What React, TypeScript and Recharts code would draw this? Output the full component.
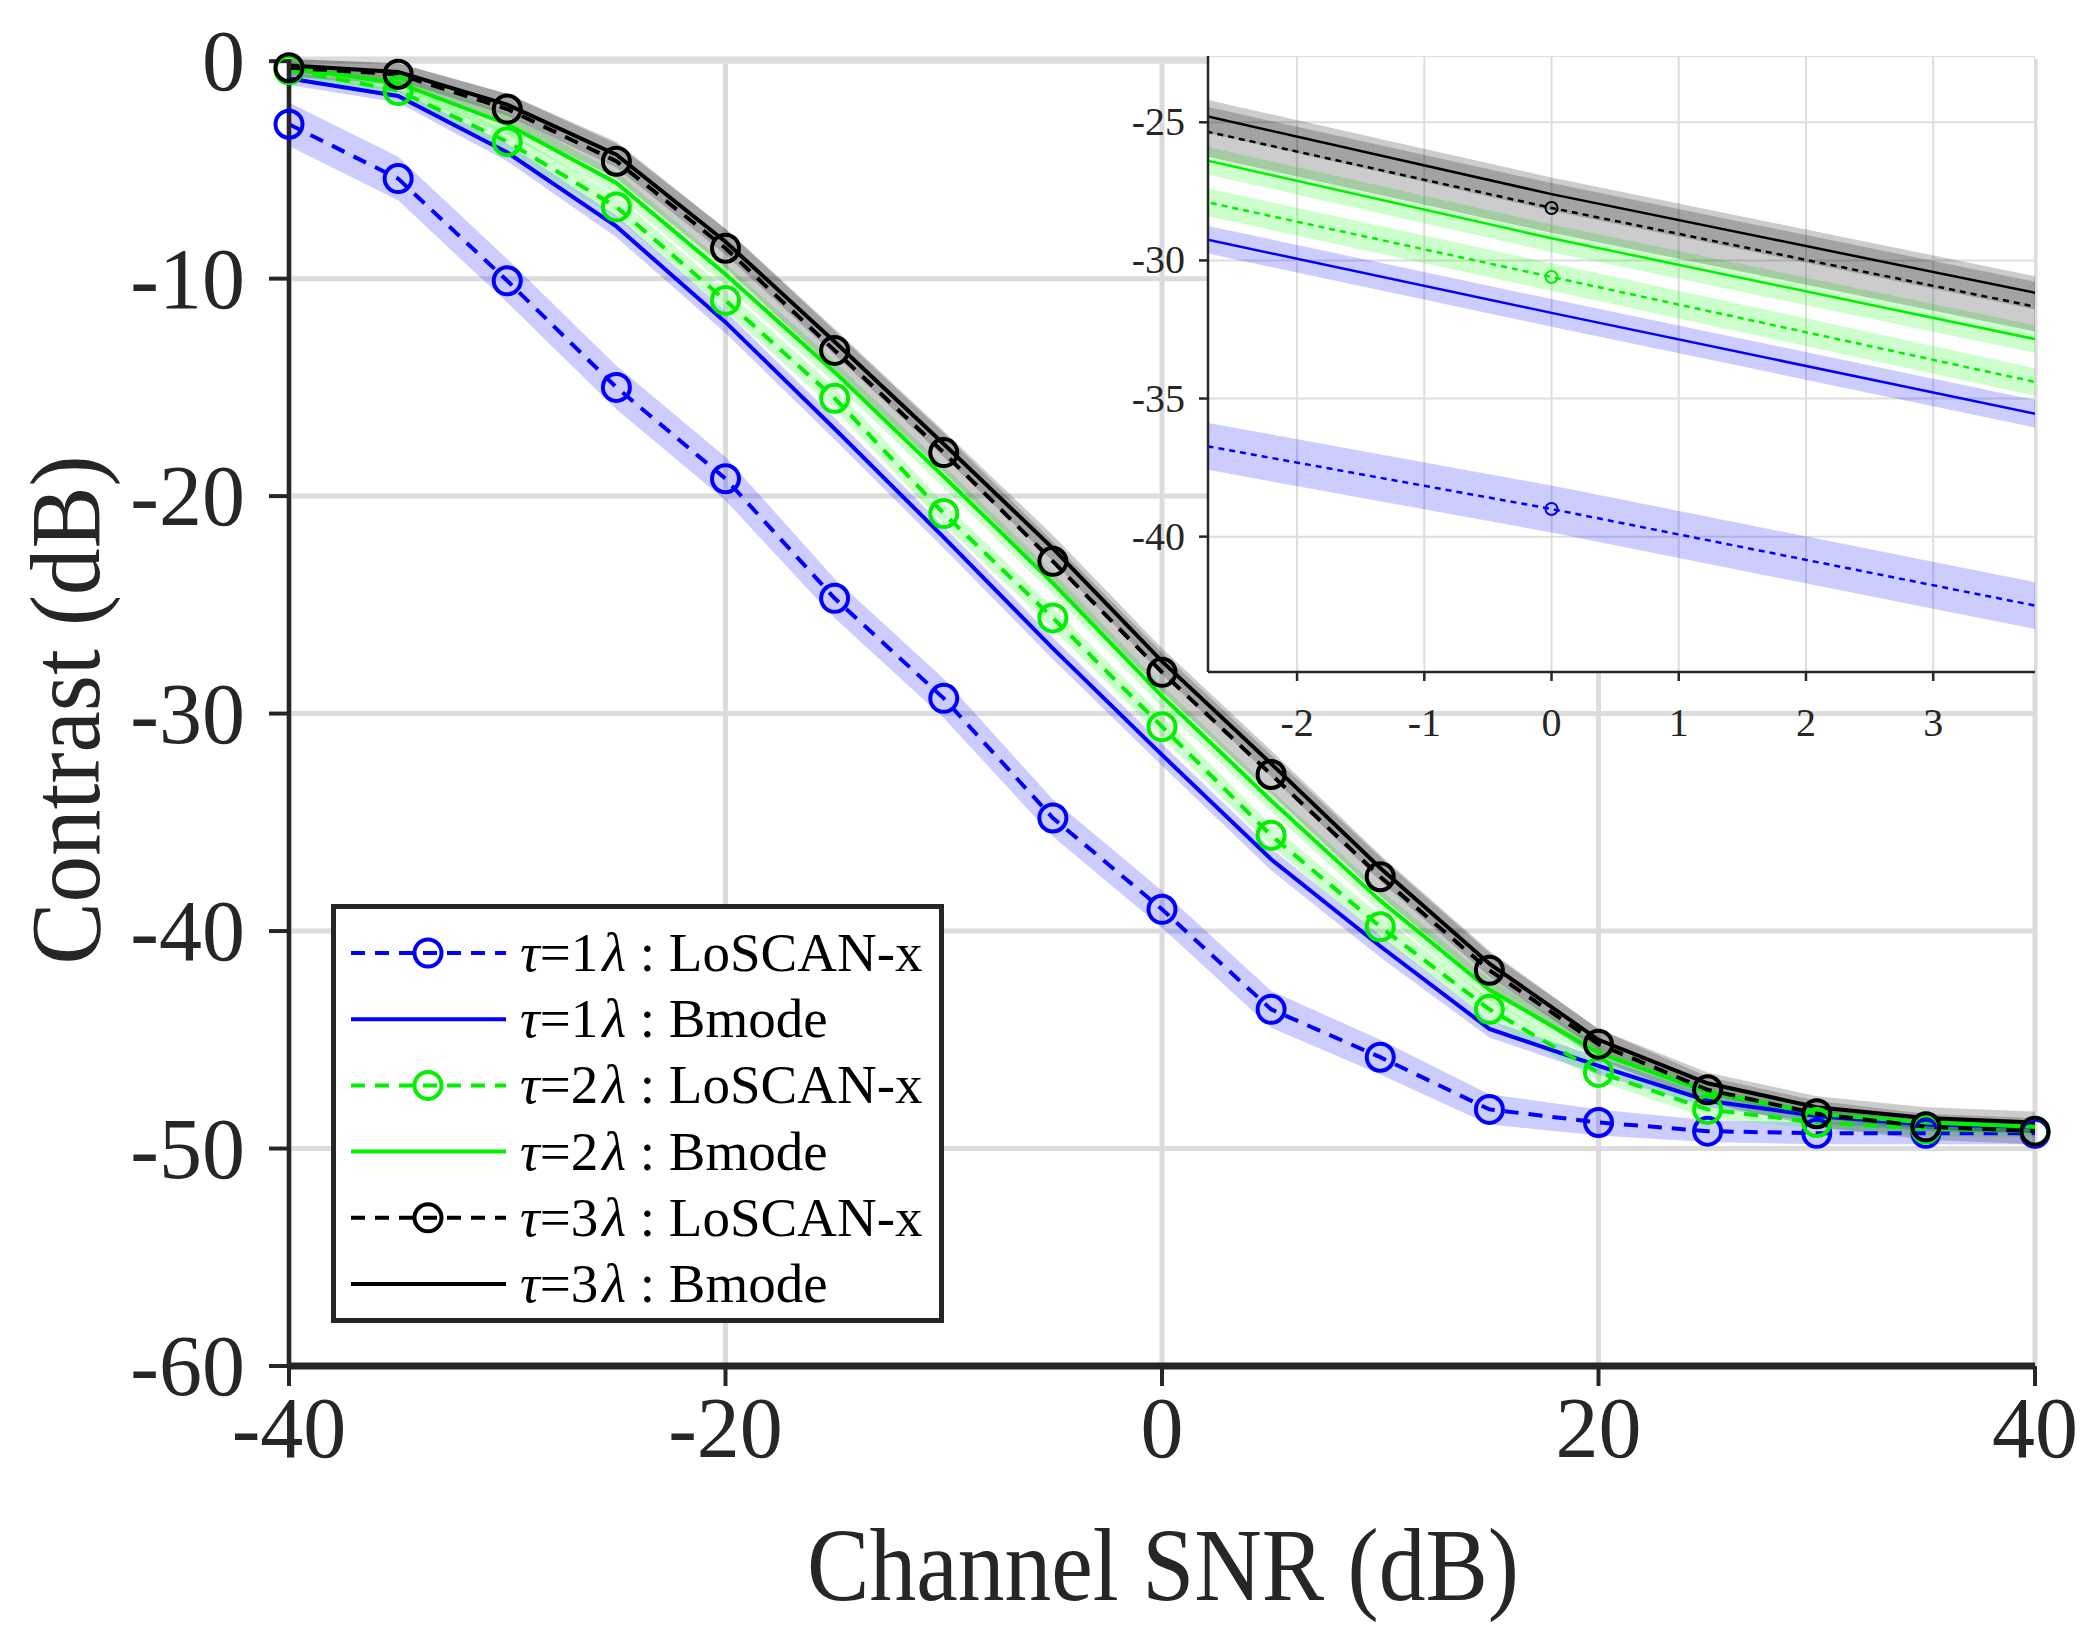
import { ComposedChart, Line, Area, XAxis, YAxis, CartesianGrid, Legend, Label } from 'recharts';

const SERIF = '"Liberation Serif", "Times New Roman", serif';
const INK = '#262626';

// channel SNR (dB)
const snr = [-40, -35, -30, -25, -20, -15, -10, -5, 0, 5, 10, 15, 20, 25, 30, 35, 40];
const xTicks = [-40, -20, 0, 20, 40];
const yTicks = [-60, -50, -40, -30, -20, -10, 0];
const insetXTicks = [-2, -1, 0, 1, 2, 3];
const insetYTicks = [-40, -35, -30, -25];

// contrast (dB), mean curves
const loscan1 = [-2.9, -5.4, -10.1, -15.0, -19.2, -24.7, -29.3, -34.8, -39.0, -43.6, -45.8, -48.2, -48.8, -49.2, -49.3, -49.3, -49.3];
const bmode1 = [-0.8, -1.6, -4.2, -7.6, -12.0, -16.9, -21.9, -27.0, -31.9, -36.7, -40.7, -44.5, -46.2, -47.8, -48.5, -48.9, -49.0];
const loscan2 = [-0.4, -1.35, -3.7, -6.7, -11.0, -15.5, -20.8, -25.6, -30.6, -35.6, -39.8, -43.6, -46.5, -48.2, -48.8, -49.1, -49.2];
const bmode2 = [-0.3, -1.0, -2.9, -5.6, -9.8, -14.3, -19.1, -24.0, -29.2, -34.0, -38.6, -42.7, -45.6, -47.4, -48.4, -48.8, -49.0];
const loscan3 = [-0.3, -0.6, -2.2, -4.6, -8.6, -13.3, -18.0, -23.0, -28.1, -32.8, -37.5, -41.8, -45.2, -47.3, -48.4, -49.0, -49.2];
const bmode3 = [-0.2, -0.5, -2.0, -4.3, -8.3, -12.9, -17.6, -22.4, -27.6, -32.3, -37.1, -41.5, -45.0, -47.0, -48.1, -48.6, -48.8];

// half width of the shaded bands (dB)
const spreadL1 = [1.0, 1.0, 1.0, 1.0, 1.0, 0.9, 0.9, 0.85, 0.85, 0.85, 0.8, 0.7, 0.6, 0.5, 0.5, 0.5, 0.5];
const spreadB1 = [0.3, 0.3, 0.4, 0.5, 0.5, 0.5, 0.5, 0.5, 0.5, 0.5, 0.5, 0.4, 0.4, 0.3, 0.3, 0.3, 0.3];
const spreadL2 = [0.3, 0.4, 0.5, 0.5, 0.5, 0.5, 0.5, 0.5, 0.5, 0.5, 0.5, 0.5, 0.4, 0.4, 0.3, 0.3, 0.3];
const spreadB2 = [0.3, 0.4, 0.5, 0.5, 0.5, 0.5, 0.5, 0.5, 0.5, 0.5, 0.5, 0.5, 0.4, 0.4, 0.3, 0.3, 0.3];
const spreadL3 = [0.4, 0.5, 0.7, 0.8, 0.9, 0.9, 0.9, 0.9, 0.9, 0.9, 0.9, 0.8, 0.7, 0.6, 0.6, 0.6, 0.6];
const spreadB3 = [0.3, 0.4, 0.5, 0.6, 0.6, 0.6, 0.6, 0.6, 0.6, 0.6, 0.6, 0.6, 0.5, 0.5, 0.5, 0.5, 0.5];

const series = [
  { key: 'l1', values: loscan1, spread: spreadL1, color: '#0000ff', band: '#0000ff', dashed: true, tau: '1', method: 'LoSCAN-x' },
  { key: 'b1', values: bmode1, spread: spreadB1, color: '#0000ff', band: '#0000ff', dashed: false, tau: '1', method: 'Bmode' },
  { key: 'l2', values: loscan2, spread: spreadL2, color: '#00f000', band: '#00ff00', dashed: true, tau: '2', method: 'LoSCAN-x' },
  { key: 'b2', values: bmode2, spread: spreadB2, color: '#00f000', band: '#00ff00', dashed: false, tau: '2', method: 'Bmode' },
  { key: 'l3', values: loscan3, spread: spreadL3, color: '#000000', band: '#000000', dashed: true, tau: '3', method: 'LoSCAN-x' },
  { key: 'b3', values: bmode3, spread: spreadB3, color: '#000000', band: '#000000', dashed: false, tau: '3', method: 'Bmode' },
];

const data = snr.map((x, i) => {
  const row: Record<string, number | number[]> = { x };
  series.forEach((s) => {
    row[s.key] = s.values[i];
    row[s.key + 'Band'] = [s.values[i] - s.spread[i], s.values[i] + s.spread[i]];
  });
  return row;
});

const MainXTick = (props: any) => (
  <text x={props.x} y={props.y} dy={58} textAnchor="middle" fontSize={86} fontFamily={SERIF} fill={INK}>
    {props.payload.value}
  </text>
);

const MainYTick = (props: any) => (
  <text x={props.x} y={props.y} dy={29} textAnchor="end" fontSize={86} fontFamily={SERIF} fill={INK}>
    {props.payload.value}
  </text>
);

const InsetXTick = (props: any) => (
  <text x={props.x} y={props.y} dy={27} textAnchor="middle" fontSize={40} fontFamily={SERIF} fill={INK}>
    {props.payload.value}
  </text>
);

const InsetYTick = (props: any) => (
  <text x={props.x} y={props.y} dy={13} textAnchor="end" fontSize={40} fontFamily={SERIF} fill={INK}>
    {props.payload.value}
  </text>
);

function LegendBox() {
  return (
    <svg width={613} height={419} style={{ display: 'block' }}>
      <rect x={2.5} y={2.5} width={608} height={414} fill="#fff" stroke={INK} strokeWidth={5} />
      {series.map((s, i) => {
        const cy = 49 + i * 66.2;
        return (
          <g key={s.key}>
            <line x1={20} x2={175} y1={cy} y2={cy} stroke={s.color} strokeWidth={4} strokeDasharray={s.dashed ? '14 10' : undefined} />
            {s.dashed && <circle cx={97} cy={cy} r={13.5} fill="none" stroke={s.color} strokeWidth={4} />}
            <text x={189} y={cy + 18} fontSize={55} fontFamily={SERIF} fill="#000">
              <tspan fontStyle="italic">τ</tspan>={s.tau}
              <tspan fontStyle="italic" dx={4}>λ</tspan> : {s.method}
            </text>
          </g>
        );
      })}
    </svg>
  );
}

function renderSeries(lineWidth: number, dash: string, dotR: number, dotW: number) {
  const bands = series.map((s) => (
    <Area
      key={s.key + 'Band'}
      type="linear"
      dataKey={s.key + 'Band'}
      stroke="none"
      fill={s.band}
      fillOpacity={0.2}
      activeDot={false}
      isAnimationActive={false}
    />
  ));
  const lines = series.map((s) => (
    <Line
      key={s.key}
      type="linear"
      dataKey={s.key}
      stroke={s.color}
      strokeWidth={lineWidth}
      strokeDasharray={s.dashed ? dash : undefined}
      dot={s.dashed ? { r: dotR, stroke: s.color, strokeWidth: dotW, fill: 'none', strokeDasharray: '' } : false}
      activeDot={false}
      isAnimationActive={false}
    />
  ));
  return [...bands, ...lines];
}

export default function App() {
  return (
    <div style={{ position: 'relative', width: 2100, height: 1650, background: '#fff' }}>
      <style>{'body{margin:0}'}</style>
      <ComposedChart width={2100} height={1650} data={data} margin={{ top: 59, right: 65, bottom: 164, left: 139 }}>
        <CartesianGrid stroke="#dcdcdc" strokeWidth={5} />
        <XAxis
          dataKey="x"
          type="number"
          domain={[-40, 40]}
          ticks={xTicks}
          height={120}
          tickSize={20}
          tickMargin={13}
          axisLine={{ stroke: INK, strokeWidth: 7 }}
          tickLine={{ stroke: INK, strokeWidth: 4 }}
          tick={<MainXTick />}
        >
          <Label
            content={() => (
              <text x={1163} y={1600} textAnchor="middle" fontSize={104} fontFamily={SERIF} fill={INK} textLength={712} lengthAdjust="spacingAndGlyphs">
                Channel SNR (dB)
              </text>
            )}
          />
        </XAxis>
        <YAxis
          type="number"
          domain={[-60, 0]}
          ticks={yTicks}
          width={150}
          tickSize={20}
          tickMargin={24}
          axisLine={{ stroke: INK, strokeWidth: 4.5 }}
          tickLine={{ stroke: INK, strokeWidth: 4 }}
          tick={<MainYTick />}
        >
          <Label
            content={() => (
              <text transform="translate(99,710) rotate(-90)" textAnchor="middle" fontSize={100} fontFamily={SERIF} fill={INK} textLength={509} lengthAdjust="spacingAndGlyphs">
                Contrast (dB)
              </text>
            )}
          />
        </YAxis>
        {renderSeries(4, '14 10', 13.5, 4)}
        <Legend
          layout="vertical"
          align="center"
          verticalAlign="middle"
          content={() => <LegendBox />}
          wrapperStyle={{ left: 331, top: 904, width: 613, height: 419 }}
        />
      </ComposedChart>

      <div style={{ position: 'absolute', left: 1098, top: 56 }}>
        <ComposedChart width={937} height={716} data={data} margin={{ top: 0, right: 0, bottom: 0, left: 0 }}>
          <CartesianGrid stroke="#dedede" strokeWidth={2} fill="#fff" />
          <XAxis
            dataKey="x"
            type="number"
            domain={[-2.7, 3.8]}
            allowDataOverflow
            ticks={insetXTicks}
            height={100}
            tickSize={9}
            tickMargin={28}
            axisLine={{ stroke: INK, strokeWidth: 2.5 }}
            tickLine={{ stroke: INK, strokeWidth: 2.5 }}
            tick={<InsetXTick />}
          />
          <YAxis
            type="number"
            domain={[-44.9, -22.6]}
            allowDataOverflow
            ticks={insetYTicks}
            width={110}
            tickSize={9}
            tickMargin={14}
            axisLine={{ stroke: INK, strokeWidth: 2.5 }}
            tickLine={{ stroke: INK, strokeWidth: 2.5 }}
            tick={<InsetYTick />}
          />
          {renderSeries(2.5, '6 5', 6, 2)}
        </ComposedChart>
      </div>
    </div>
  );
}
